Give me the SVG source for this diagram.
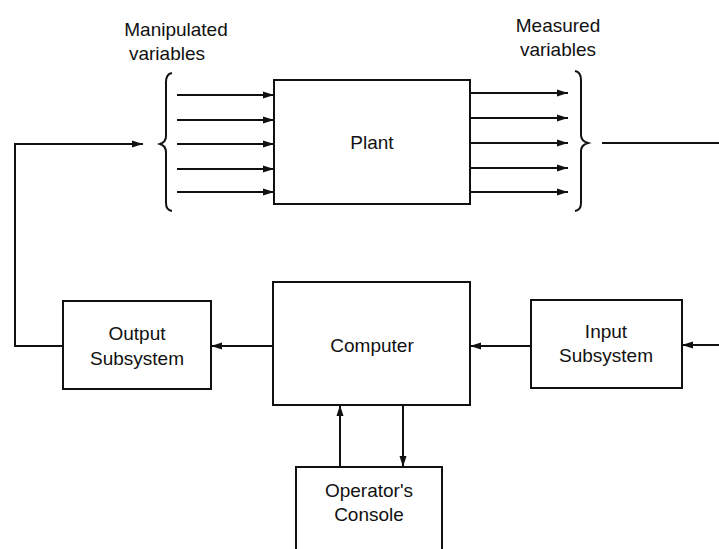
<svg xmlns="http://www.w3.org/2000/svg" width="719" height="549" viewBox="0 0 719 549">
<style>
.box{fill:#fff;stroke:#111;stroke-width:2}
.ln{fill:none;stroke:#111;stroke-width:2}
.t{font-family:"Liberation Sans",Arial,sans-serif;font-size:19px;fill:#111;text-anchor:middle}
.lbl{font-family:"Liberation Sans",Arial,sans-serif;font-size:19px;fill:#111;text-anchor:middle}
</style>
<defs>
<marker id="ah" markerWidth="12" markerHeight="8" refX="11" refY="4" orient="auto" markerUnits="userSpaceOnUse">
<path d="M0,0.5 L11,4 L0,7.5 Z" fill="#111"/>
</marker>
</defs>
<rect width="719" height="549" fill="#fff"/>
<g id="labels">
<text class="lbl" x="176" y="36">Manipulated</text>
<text class="lbl" x="167" y="60">variables</text>
<text class="lbl" x="558" y="32">Measured</text>
<text class="lbl" x="558" y="56">variables</text>
</g>
<g id="plant">
<rect class="box" x="274" y="80" width="196" height="124"/>
<text class="t" x="372" y="149">Plant</text>
</g>
<g id="computer">
<rect class="box" x="273" y="282" width="197" height="123"/>
<text class="t" x="372" y="352">Computer</text>
</g>
<g id="output">
<rect class="box" x="63" y="301" width="148" height="88"/>
<text class="t" x="137" y="340">Output</text>
<text class="t" x="137" y="365">Subsystem</text>
</g>
<g id="input">
<rect class="box" x="531" y="300" width="151" height="88"/>
<text class="t" x="606" y="338">Input</text>
<text class="t" x="606" y="362">Subsystem</text>
</g>
<g id="console">
<rect class="box" x="296" y="467" width="146" height="100"/>
<text class="t" x="369" y="497">Operator's</text>
<text class="t" x="369" y="521">Console</text>
</g>
<g id="connectors">
<path class="ln" d="M172,73 Q166,74 166,82 L166,136 Q166,142 160,144 Q166,146 166,152 L166,203 Q166,210 172,211"/>
<path class="ln" d="M575,71 Q581,72 581,80 L581,135 Q581,141 588,143 Q581,145 581,151 L581,203 Q581,210 575,211"/>
<line class="ln" x1="177" y1="95" x2="274" y2="95" marker-end="url(#ah)"/>
<line class="ln" x1="177" y1="120" x2="274" y2="120" marker-end="url(#ah)"/>
<line class="ln" x1="177" y1="144" x2="274" y2="144" marker-end="url(#ah)"/>
<line class="ln" x1="177" y1="169" x2="274" y2="169" marker-end="url(#ah)"/>
<line class="ln" x1="177" y1="192" x2="274" y2="192" marker-end="url(#ah)"/>
<line class="ln" x1="470" y1="93" x2="568" y2="93" marker-end="url(#ah)"/>
<line class="ln" x1="470" y1="118" x2="568" y2="118" marker-end="url(#ah)"/>
<line class="ln" x1="470" y1="143" x2="568" y2="143" marker-end="url(#ah)"/>
<line class="ln" x1="470" y1="168" x2="568" y2="168" marker-end="url(#ah)"/>
<line class="ln" x1="470" y1="192" x2="568" y2="192" marker-end="url(#ah)"/>
<line class="ln" x1="602" y1="143" x2="719" y2="143"/>
<path class="ln" d="M63,346 L15,346 L15,144 L143,144" marker-end="url(#ah)"/>
<line class="ln" x1="273" y1="346" x2="211" y2="346" marker-end="url(#ah)"/>
<line class="ln" x1="531" y1="346" x2="470" y2="346" marker-end="url(#ah)"/>
<line class="ln" x1="719" y1="345" x2="682" y2="345" marker-end="url(#ah)"/>
<line class="ln" x1="340" y1="467" x2="340" y2="405" marker-end="url(#ah)"/>
<line class="ln" x1="403" y1="405" x2="403" y2="467" marker-end="url(#ah)"/>
</g>
</svg>
